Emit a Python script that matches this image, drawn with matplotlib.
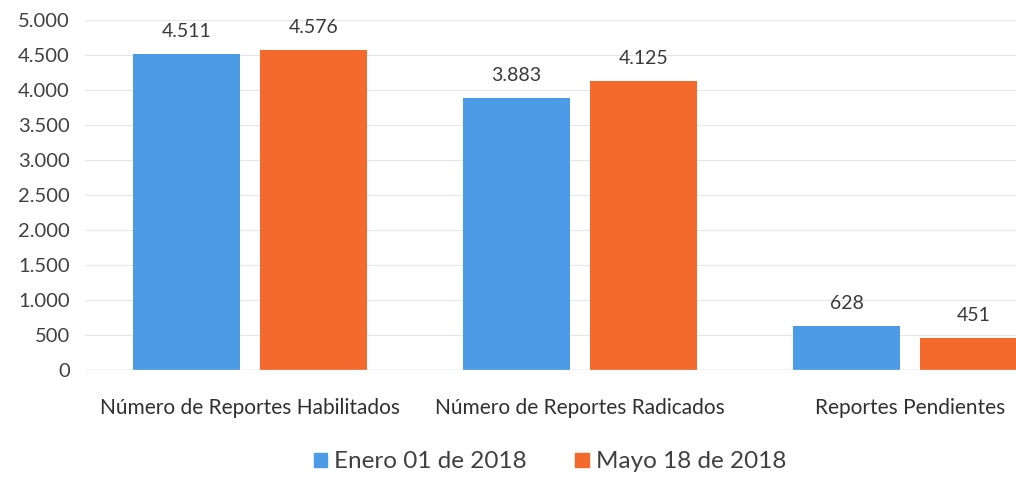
import matplotlib
matplotlib.use("Agg")
import matplotlib.pyplot as plt
import numpy as np

categories = ["Número de Reportes Habilitados", "Número de Reportes Radicados", "Reportes Pendientes"]
series_names = ["Enero 01 de 2018", "Mayo 18 de 2018"]
enero = [4511, 3883, 628]
mayo = [4576, 4125, 451]
y_ticks = [0, 500, 1000, 1500, 2000, 2500, 3000, 3500, 4000, 4500, 5000]

def fmt(v):
    return f"{v:,}".replace(",", ".")

plt.rcParams['font.family'] = ['Lato', 'DejaVu Sans']

fig = plt.figure(figsize=(10.16, 4.78), dpi=100)
ax = fig.add_axes([85/1016, 1-370/478, (1075-85)/1016, 350/478])

blue = "#4C9BE6"
orange = "#F4692C"
x = np.arange(len(categories))
w = 0.324
gap = 0.03
b1 = ax.bar(x - w/2 - gap, enero, w, color=blue, label=series_names[0])
b2 = ax.bar(x + w/2 + gap, mayo, w, color=orange, label=series_names[1])

for bars, vals in ((b1, enero), (b2, mayo)):
    for r, v in zip(bars, vals):
        ax.text(r.get_x() + r.get_width()/2, v + 200, fmt(v), ha='center', va='bottom',
                fontsize=14, color='#3a3a3a')

ax.set_ylim(0, 5000)
ax.set_xlim(-0.5, 2.5)
ax.set_yticks(y_ticks)
ax.set_yticklabels([fmt(t) for t in y_ticks], fontsize=14.5, color='#404040')
ax.set_xticks(x)
ax.set_xticklabels(categories, fontsize=15, color='#303030')
ax.tick_params(axis='both', length=0)
ax.tick_params(axis='y', pad=11)
ax.tick_params(axis='x', pad=20)
for s in ax.spines.values():
    s.set_visible(False)
ax.grid(axis='y', color='#e6e6e6', linewidth=0.8)
ax.axhline(0, color='#cfcfcf', linewidth=1)
ax.set_axisbelow(True)

handles = [plt.Rectangle((0, 0), 1, 1, color=blue), plt.Rectangle((0, 0), 1, 1, color=orange)]
fig.legend(handles, series_names, loc='center', bbox_to_anchor=(550/1016, 1-462/478),
           ncol=2, frameon=False, fontsize=17.5, handlelength=0.55, handleheight=0.55,
           handletextpad=0.3, columnspacing=2.0, labelcolor='#404040')

fig.savefig("out.png", dpi=100)
